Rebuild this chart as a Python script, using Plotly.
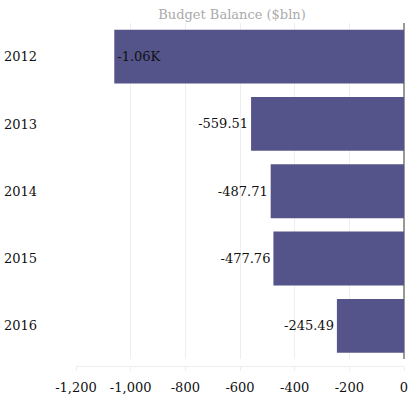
import plotly.graph_objects as go

years = ["2012", "2013", "2014", "2015", "2016"]
balance = [-1060.0, -559.51, -487.71, -477.76, -245.49]
x_ticks = [-1200, -1000, -800, -600, -400, -200, 0]
x_tick_labels = ["-1,200", "-1,000", "-800", "-600", "-400", "-200", "0"]


def fmt(v):
    if abs(v) >= 1000:
        return f"{v/1000:.2f}K"
    return f"{v:.2f}"


labels = [fmt(v) for v in balance]
positions = ["inside" if abs(v) >= 1000 else "outside" for v in balance]
FONT = "DejaVu Serif, Georgia, serif"

W, H = 420, 409

fig = go.Figure(
    go.Bar(
        x=balance,
        y=years,
        orientation="h",
        marker=dict(color="#55548A", line=dict(width=0)),
        text=labels,
        textposition=positions,
        insidetextanchor="end",
        textfont=dict(family=FONT, size=13, color="#111111"),
        insidetextfont=dict(family=FONT, size=13, color="#111111"),
        outsidetextfont=dict(family=FONT, size=13, color="#111111"),
        cliponaxis=False,
        width=0.8,
    )
)

fig.update_layout(
    width=W,
    height=H,
    margin=dict(l=76, r=16, t=23, b=43, autoexpand=False),
    paper_bgcolor="white",
    plot_bgcolor="white",
    showlegend=False,
    font=dict(family=FONT, size=13, color="#111111"),
    title=dict(
        text="Budget Balance ($bln)",
        x=232 / W,
        xref="container",
        xanchor="center",
        y=1 - 14 / H,
        yref="container",
        yanchor="middle",
        font=dict(family=FONT, size=13, color="#AAAAAA"),
    ),
    xaxis=dict(
        range=[-1200, 0],
        tickvals=x_ticks,
        ticktext=x_tick_labels,
        showgrid=True,
        gridcolor="#EEEEEE",
        gridwidth=1,
        zeroline=True,
        zerolinecolor="#999999",
        zerolinewidth=2,
        showline=True,
        linecolor="#EEEEEE",
        linewidth=1,
        ticks="outside",
        ticklen=4,
        tickcolor="#EEEEEE",
        anchor="free",
        position=0,
        automargin=False,
        ticklabelstandoff=5,
        tickfont=dict(family=FONT, size=13, color="#111111"),
    ),
    yaxis=dict(
        categoryorder="array",
        categoryarray=years[::-1],
        domain=[0.019, 1],
        showgrid=False,
        zeroline=False,
        showline=False,
        ticks="",
        automargin=False,
        ticklabelstandoff=38,
        tickfont=dict(family=FONT, size=13, color="#111111"),
    ),
)

fig.write_html(
    "out.html",
    config={"displayModeBar": False},
    post_script="document.body.style.margin='0px';document.body.style.padding='0px';",
)
